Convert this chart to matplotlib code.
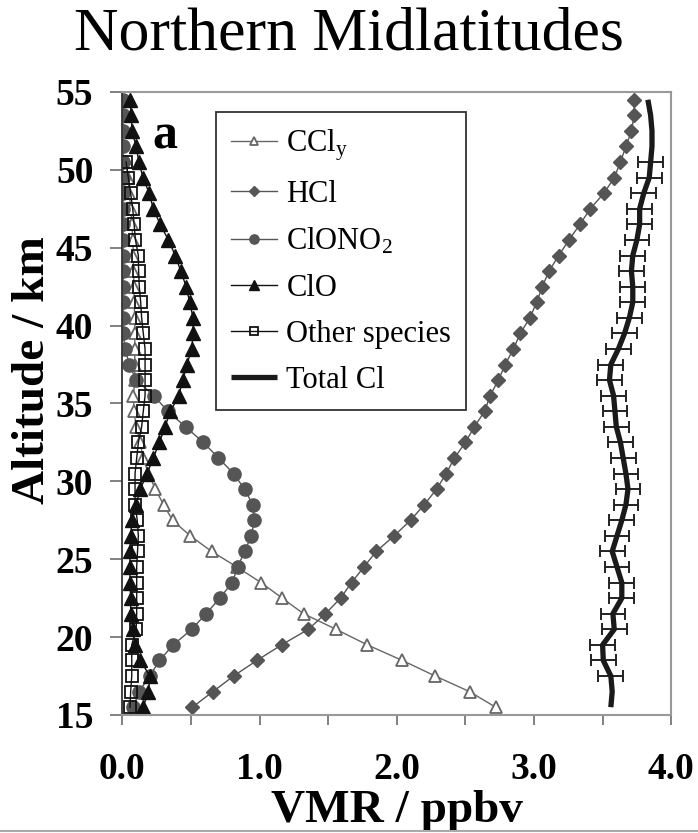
import numpy as np
import matplotlib
matplotlib.use("Agg")
import matplotlib.pyplot as plt
from matplotlib.lines import Line2D

plt.rcParams["font.family"] = ["Liberation Serif", "DejaVu Serif"]
plt.rcParams["mathtext.fontset"] = "custom"
plt.rcParams["mathtext.rm"] = "Liberation Serif"
plt.rcParams["mathtext.it"] = "Liberation Serif:italic"

# altitude levels (km), bottom to top
altitude = [15.5, 16.5, 17.5, 18.5, 19.5, 20.5, 21.5, 22.5, 23.5, 24.5,
            25.5, 26.5, 27.5, 28.5, 29.5, 30.5, 31.5, 32.5, 33.5, 34.5,
            35.5, 36.5, 37.5, 38.5, 39.5, 40.5, 41.5, 42.5, 43.5, 44.5,
            45.5, 46.5, 47.5, 48.5, 49.5, 50.5, 51.5, 52.5, 53.5, 54.5]

# VMR in ppbv; CCly and other species only reach 50.5 km
ccly = [2.72, 2.53, 2.28, 2.04, 1.785, 1.557, 1.32, 1.165, 1.01, 0.835,
        0.65, 0.495, 0.365, 0.30, 0.24, 0.19, 0.15, 0.13, 0.10, 0.085,
        0.08, 0.09, 0.09, 0.09, 0.09, 0.09, 0.085, 0.085, 0.08, 0.08,
        0.075, 0.07, 0.06, 0.05, 0.04, 0.03]
hcl = [0.51, 0.66, 0.81, 0.98, 1.16, 1.355, 1.48, 1.59, 1.67, 1.76,
       1.85, 1.98, 2.10, 2.20, 2.29, 2.36, 2.42, 2.50, 2.565, 2.64,
       2.68, 2.74, 2.79, 2.85, 2.90, 2.97, 3.02, 3.06, 3.11, 3.18,
       3.255, 3.335, 3.41, 3.51, 3.585, 3.63, 3.67, 3.71, 3.73, 3.73]
clono2 = [0.08, 0.12, 0.20, 0.27, 0.37, 0.505, 0.61, 0.71, 0.80, 0.84,
          0.89, 0.94, 0.96, 0.95, 0.89, 0.81, 0.70, 0.59, 0.46, 0.33,
          0.23, 0.10, 0.05, 0.02, 0.005, 0.005, 0.005, 0.005, 0.005, 0.005,
          0.005, 0.005, 0.005, 0.005, 0.005, 0.005, 0.005, 0.005, 0.005, 0.005]
clo = [0.15, 0.19, 0.20, 0.13, 0.09, 0.075, 0.06, 0.06, 0.055, 0.055,
       0.055, 0.06, 0.07, 0.10, 0.13, 0.18, 0.225, 0.27, 0.31, 0.35,
       0.41, 0.44, 0.47, 0.505, 0.515, 0.515, 0.49, 0.465, 0.425, 0.385,
       0.335, 0.275, 0.225, 0.195, 0.15, 0.12, 0.10, 0.07, 0.065, 0.055]
other = [0.055, 0.06, 0.068, 0.068, 0.068, 0.10, 0.104, 0.104, 0.104, 0.104,
         0.11, 0.116, 0.108, 0.092, 0.092, 0.092, 0.104, 0.116, 0.14, 0.152,
         0.165, 0.165, 0.165, 0.165, 0.152, 0.14, 0.133, 0.123, 0.118, 0.116,
         0.095, 0.085, 0.075, 0.06, 0.043, 0.027]
total_cl = [3.56, 3.57, 3.56, 3.505, 3.50, 3.585, 3.575, 3.64, 3.64, 3.605,
            3.57, 3.605, 3.64, 3.67, 3.685, 3.67, 3.65, 3.63, 3.60, 3.59,
            3.58, 3.55, 3.56, 3.615, 3.66, 3.695, 3.72, 3.72, 3.71, 3.72,
            3.75, 3.77, 3.77, 3.80, 3.84, 3.85, 3.86, 3.86, 3.85, 3.83]
# error bars on total Cl, 17.5 - 50.5 km
err_alt = altitude[2:36]
err_val = total_cl[2:36]
err = [0.09] * len(err_alt)

fig = plt.figure(figsize=(6.98, 8.33), dpi=100)
ax = fig.add_axes([0.1754, 0.1417, 0.7862, 0.7479])

n = len(ccly)
ax.plot(ccly, altitude[:n], "-^", color="#666666", lw=1.0, ms=9,
        mfc="white", mec="#666666", mew=1.3, label=r"CCl$_\mathrm{y}$")
ax.plot(hcl, altitude, "-D", color="#555555", lw=1.0, ms=7,
        mec="#555555", label="HCl")
ax.plot(clono2, altitude, "-o", color="#555555", lw=1.0, ms=9.5,
        mec="#555555", label=r"ClONO$_2$")
ax.plot(clo, altitude, "-^", color="#111111", lw=1.0, ms=9.5,
        label="ClO")
n = len(other)
ax.plot(other, altitude[:n], "-s", color="#111111", lw=1.0, ms=8.5,
        mfc="none", mec="#111111", mew=1.3, label="Other species")
ax.errorbar(err_val, err_alt, xerr=err, fmt="none", ecolor="#222222",
            elinewidth=1.4, capsize=4, capthick=1.4)
ax.plot(total_cl, altitude, "-", color="#1a1a1a", lw=3.8,
        solid_capstyle="butt", solid_joinstyle="round", label="Total Cl")

ax.set_xlim(0, 4)
ax.set_ylim(15, 55)
ax.set_xticks(np.arange(0, 4.01, 0.5))
ax.set_xticklabels(["0.0", "", "1.0", "", "2.0", "", "3.0", "", "4.0"],
                   fontweight="bold", fontsize=27)
ax.set_yticks(np.arange(15, 56, 5))
ax.set_yticklabels([str(v) for v in range(15, 56, 5)],
                   fontweight="bold", fontsize=27)
ax.tick_params(axis="x", direction="out", length=7, width=1.3,
               color="#777777", pad=20)
ax.tick_params(axis="y", direction="out", length=9, width=1.3,
               color="#777777", pad=12)
for side in ["top", "right", "bottom"]:
    ax.spines[side].set_color("#999999")
    ax.spines[side].set_linewidth(1.5)
ax.spines["left"].set_color("#333333")
ax.spines["left"].set_linewidth(1.3)

ax.set_xlabel("VMR / ppbv", fontweight="bold", fontsize=34)
ax.xaxis.set_label_coords(0.5, -0.12)
ax.set_ylabel("Altitude / km", fontweight="bold", fontsize=34)
ax.yaxis.set_label_coords(-0.125, 0.554)
fig.text(0.5, 0.958, "Northern Midlatitudes", fontsize=44.5,
         ha="center", va="center")

ax.text(0.078, 0.928, "a", transform=ax.transAxes, fontsize=36,
        fontweight="bold", ha="center", va="center")

leg = ax.legend(loc="upper left", bbox_to_anchor=(0.1706, 0.968),
                borderaxespad=0, fontsize=22, markerscale=0.7,
                handlelength=1.5, handletextpad=0.3, labelspacing=0.56,
                borderpad=0.5, fancybox=False, framealpha=1)
leg.get_frame().set_edgecolor("#333333")
leg.get_frame().set_linewidth(1.3)

fig.add_artist(Line2D([0, 1], [0.002, 0.002], color="#aaaaaa", lw=1.5))

fig.savefig("out.png", dpi=100)
